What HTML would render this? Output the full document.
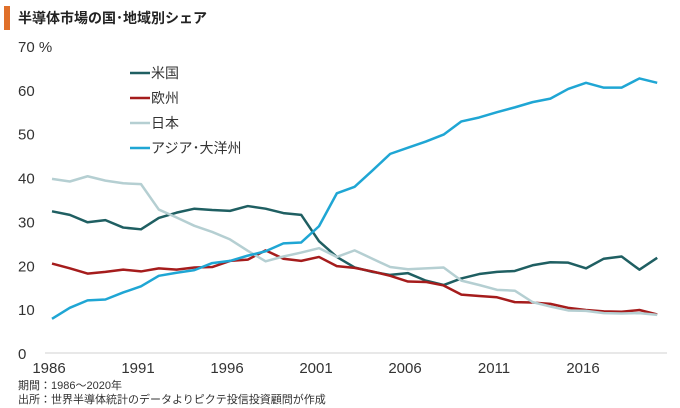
<!DOCTYPE html>
<html><head><meta charset="utf-8"><style>
body{margin:0;background:#fff;font-family:"Liberation Sans","Noto Sans CJK JP",sans-serif;}
</style></head><body>
<svg width="680" height="408" viewBox="0 0 680 408" style="display:block">
<rect x="4" y="6" width="6" height="24" fill="#e0702a"/>
<text x="18" y="23" font-size="14" font-weight="bold" fill="#222">半導体市場の国･地域別シェア</text>
<g id="yaxis"></g>
<g id="xaxis"></g>
<line x1="45" y1="353" x2="667" y2="353" stroke="#d0d0d0" stroke-width="1"/>
<g id="series"></g>
<g id="legend"></g>
<text x="18" y="389" font-size="11" fill="#333">期間：1986～2020年</text>
<text x="18" y="403" font-size="11" fill="#333">出所：世界半導体統計のデータよりピクテ投信投資顧問が作成</text>
</svg>
<script>
const years=[];for(let y=1986;y<=2020;y++)years.push(y);
const us=[32.3,31.5,29.8,30.3,28.6,28.2,30.8,32,32.9,32.6,32.4,33.5,32.9,31.9,31.5,25.5,21.9,19.5,18.5,17.8,18.2,16.5,15.5,17,18,18.5,18.7,20,20.7,20.6,19.3,21.5,22,19,21.7];
const europe=[20.4,19.3,18.1,18.5,19,18.6,19.3,19,19.5,19.6,21,21.3,23.4,21.5,21,21.9,19.8,19.4,18.6,17.6,16.3,16.2,15.4,13.3,13,12.7,11.6,11.5,11.2,10.3,9.8,9.5,9.4,9.8,8.8];
const japan=[39.7,39.1,40.3,39.3,38.7,38.5,32.7,30.9,29,27.6,25.9,23.3,20.9,22,22.9,23.9,21.9,23.4,21.5,19.6,19.1,19.3,19.5,16.5,15.5,14.4,14.2,11.6,10.6,9.7,9.6,9.1,9,9.1,8.7];
const asia=[7.8,10.3,12,12.2,13.8,15.2,17.6,18.3,18.9,20.5,21,22.2,23.2,25,25.2,28.9,36.4,37.9,41.6,45.4,46.8,48.2,49.8,52.8,53.7,54.9,56,57.2,58,60.2,61.6,60.5,60.5,62.6,61.6];
const yTicks=[0,10,20,30,40,50,60,70];
const xTicks=[1986,1991,1996,2001,2006,2011,2016];
const names=["米国","欧州","日本","アジア･大洋州"];
const colors=["#1f5f62","#a51c1c","#b5cfd2","#1fa6d4"];
const NS="http://www.w3.org/2000/svg";
const X=y=>52+(y-1986)*17.8;
const Y=v=>353-v*4.386;
const ya=document.getElementById('yaxis');
yTicks.forEach(t=>{const e=document.createElementNS(NS,'text');
e.setAttribute('x',18);e.setAttribute('y',Y(t)+6);e.setAttribute('font-size','15');e.setAttribute('fill','#333');
e.textContent=t===70?'70 %':String(t);


ya.appendChild(e);});
const xa=document.getElementById('xaxis');
xTicks.forEach(t=>{const e=document.createElementNS(NS,'text');
e.setAttribute('x',X(t)-3);e.setAttribute('y',373);e.setAttribute('font-size','15');e.setAttribute('fill','#333');e.setAttribute('text-anchor','middle');
e.textContent=t;


xa.appendChild(e);});
const sg=document.getElementById('series');
[us,europe,japan,asia].forEach((s,i)=>{const p=document.createElementNS(NS,'polyline');
p.setAttribute('points',s.map((v,j)=>X(years[j])+','+Y(v)).join(' '));
p.setAttribute('fill','none');p.setAttribute('stroke',colors[i]);p.setAttribute('stroke-width','2.5');p.setAttribute('stroke-linejoin','round');


sg.appendChild(p);});
const lg=document.getElementById('legend');
names.forEach((n,i)=>{const y=73+i*25;
const l=document.createElementNS(NS,'line');
l.setAttribute('x1',130);l.setAttribute('x2',150);l.setAttribute('y1',y);l.setAttribute('y2',y);l.setAttribute('stroke',colors[i]);l.setAttribute('stroke-width','2.5');


lg.appendChild(l);
const t=document.createElementNS(NS,'text');
t.setAttribute('x',151);t.setAttribute('y',y+5);t.setAttribute('font-size','14');t.setAttribute('fill','#333');t.textContent=n;


lg.appendChild(t);});
</script>
</body></html>
